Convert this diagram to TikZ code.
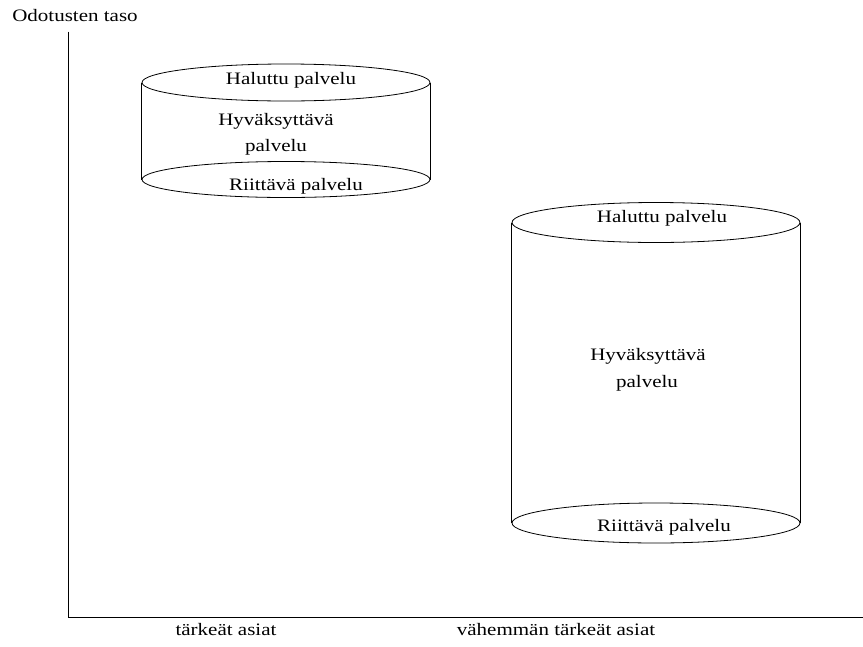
\documentclass[tikz,border=0pt]{standalone}
\usepackage{fontspec}
\setmainfont{Liberation Serif}
\newfontfamily\labelfont[FakeStretch=1.2]{Liberation Serif}
\usetikzlibrary{shapes.geometric}
\begin{document}
\begin{tikzpicture}[x=1pt, y=-1pt, line width=0.8pt,
  txt/.style={font=\labelfont\fontsize{17.5}{20}\selectfont, inner sep=0pt, anchor=center},
  rim/.style={ellipse, draw, inner sep=0pt, minimum width=288pt}]
\useasboundingbox (0,0) rectangle (863,646);

% axes
\coordinate (ytop) at (68,31.5);
\coordinate (xend) at (863,617);
\draw (ytop) |- (xend);
\node[txt] (ylab) at (75,16) {Odotusten taso};
\node[txt] (xlab1) at (226,630) {tärkeät asiat};
\node[txt] (xlab2) at (556,630) {vähemmän tärkeät asiat};

% important services: narrow tolerance band
\node[rim, minimum height=37pt] (c1top) at (286,82.5) {};
\node[rim, minimum height=36pt] (c1bot) at (286,179.5) {};
\draw (c1top.west) -- (c1bot.west);
\draw (c1top.east) -- (c1bot.east);
\node[txt] (c1hal) at (291,80) {Haluttu palvelu};
\node[txt] (c1hyv) at (276,121) {Hyväksyttävä};
\node[txt] (c1pal) at (276,147) {palvelu};
\node[txt] (c1rii) at (296,186) {Riittävä palvelu};

% less important services: wide tolerance band
\node[rim, minimum height=40pt] (c2top) at (656,222.5) {};
\node[rim, minimum height=40pt] (c2bot) at (656,523) {};
\draw (c2top.west) -- (c2bot.west);
\draw (c2top.east) -- (c2bot.east);
\node[txt] (c2hal) at (662,218) {Haluttu palvelu};
\node[txt] (c2hyv) at (648,356) {Hyväksyttävä};
\node[txt] (c2pal) at (647,383) {palvelu};
\node[txt] (c2rii) at (664,527) {Riittävä palvelu};
\end{tikzpicture}
\end{document}
